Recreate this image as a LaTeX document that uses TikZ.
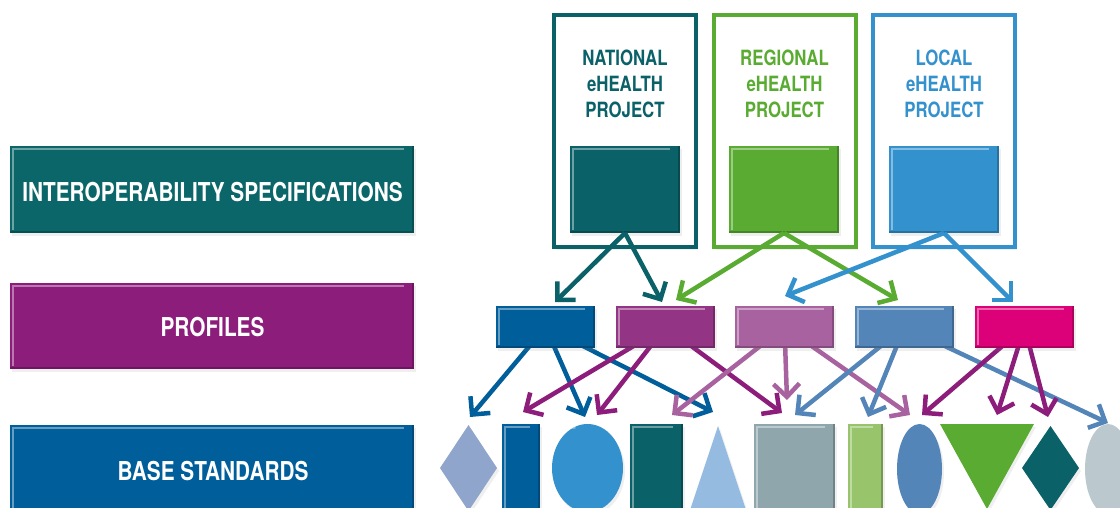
\documentclass[tikz,border=0pt]{standalone}
\usepackage{fontspec}
\newfontfamily\cond[FakeStretch=0.8]{TeX Gyre Heros}
\usetikzlibrary{arrows.meta,shadows,shapes.geometric}
\pgfdeclarelayer{bg}
\pgfsetlayers{bg,main}
\definecolor{cTeal}{HTML}{0A6168}
\definecolor{cSpec}{HTML}{0B6669}
\definecolor{cGreen}{HTML}{5AAB32}
\definecolor{cBlue}{HTML}{3391CD}
\definecolor{cDark}{HTML}{005E9B}
\definecolor{cPurple}{HTML}{8C1D7B}
\definecolor{cPtwo}{HTML}{933584}
\definecolor{cPthree}{HTML}{A8629F}
\definecolor{cPfour}{HTML}{5385B9}
\definecolor{cMag}{HTML}{DD0179}
\definecolor{cDia}{HTML}{8FA5CB}
\definecolor{cTri}{HTML}{96BBE1}
\definecolor{cGrey}{HTML}{8FA7AC}
\definecolor{cLGreen}{HTML}{98C46C}
\definecolor{cPale}{HTML}{BBC8CD}
\tikzset{
  shadowed/.style={drop shadow={shadow xshift=2pt,shadow yshift=-3pt,opacity=0.13}},
  glossy/.style={path picture={
    \draw[white,opacity=0.4,line width=1.2pt]
      ([shift={(3pt,3pt)}]path picture bounding box.south west) --
      ([shift={(3pt,-3pt)}]path picture bounding box.north west) --
      ([shift={(-10pt,-3pt)}]path picture bounding box.north east);
    \draw[black,opacity=0.22,line width=2.4pt]
      ([shift={(0pt,1.2pt)}]path picture bounding box.south west) --
      ([shift={(-1.2pt,1.2pt)}]path picture bounding box.south east) --
      ([shift={(-1.2pt,0pt)}]path picture bounding box.north east);
  }},
  eglossy/.style={path picture={
    \draw[white,opacity=0.45,line width=1.4pt]
      ([shift={(5pt,-12pt)}]path picture bounding box.north west) to[bend left=30]
      ([shift={(-12pt,-4pt)}]path picture bounding box.north);
  }},
  blk/.style={rectangle,inner sep=0pt,outer sep=0pt,shadowed,glossy},
  shp/.style={inner sep=0pt,outer sep=0pt,shadowed},
  lbl/.style={text=white,font=\cond\bfseries\fontsize{26}{30}\selectfont},
  frame/.style={rectangle,inner sep=0pt,fill=white,line width=4pt,minimum width=142,minimum height=232,shadowed},
  ptxt/.style={align=center,font=\cond\bfseries\fontsize{21}{26}\selectfont},
  arr/.style={line width=4.5pt,-{Straight Barb[length=13pt,width=26pt]}}
}
\begin{document}
\begin{tikzpicture}[x=1pt,y=-1pt]
\useasboundingbox (0,0) rectangle (1120,508);
\clip (0,0) rectangle (1120,508);

% left category bars
\node[blk,fill=cSpec,minimum width=404,minimum height=87] (spec) at (212,189.5) {};
\node[blk,fill=cPurple,minimum width=404,minimum height=86] (prof) at (212,326) {};
\node[blk,fill=cDark,minimum width=404,minimum height=87] (base) at (212,468.5) {};
\node[lbl] (spect) at (212.5,192.5) {INTEROPERABILITY SPECIFICATIONS};
\node[lbl] (proft) at (212.5,327) {PROFILES};
\node[lbl] (baset) at (213,471) {BASE STANDARDS};

% project frames
\node[frame,draw=cTeal] (natf) at (625,131) {};
\node[frame,draw=cGreen] (regf) at (784.5,131) {};
\node[frame,draw=cBlue] (locf) at (944,131) {};
\node[ptxt,text=cTeal] (natt) at (625,83.5) {NATIONAL\\eHEALTH\\PROJECT};
\node[ptxt,text=cGreen] (regt) at (784.5,83.5) {REGIONAL\\eHEALTH\\PROJECT};
\node[ptxt,text=cBlue] (loct) at (944,83.5) {LOCAL\\eHEALTH\\PROJECT};
\node[blk,fill=cTeal,minimum width=110,minimum height=87] (nat) at (625,189.5) {};
\node[blk,fill=cGreen,minimum width=110,minimum height=87] (reg) at (784,189.5) {};
\node[blk,fill=cBlue,minimum width=110,minimum height=87] (loc) at (944,189.5) {};

% profile boxes
\node[blk,fill=cDark,minimum width=99,minimum height=42] (p1) at (545.5,327) {};
\node[blk,fill=cPtwo,minimum width=99,minimum height=42] (p2) at (665.5,327) {};
\node[blk,fill=cPthree,minimum width=99,minimum height=42] (p3) at (784.5,327) {};
\node[blk,fill=cPfour,minimum width=99,minimum height=42] (p4) at (904.5,327) {};
\node[blk,fill=cMag,minimum width=99,minimum height=42] (p5) at (1024.5,327) {};

% base standard shapes
\node[shp,diamond,fill=cDia,minimum width=57,minimum height=86] (s1) at (468.5,468) {};
\node[blk,fill=cDark,minimum width=38,minimum height=100] (s2) at (521,474) {};
\node[shp,ellipse,fill=cBlue,minimum width=71,minimum height=88,eglossy] (s3) at (587.5,468) {};
\node[blk,fill=cTeal,minimum width=53,minimum height=100] (s4) at (656.5,474) {};
\path[shp,fill=cTri] (718,426) -- (748,516) -- (688,516) -- cycle;
\coordinate (s5) at (718,470);
\node[blk,fill=cGrey,minimum width=81,minimum height=100] (s6) at (794.5,474) {};
\node[blk,fill=cLGreen,minimum width=35,minimum height=100] (s7) at (865.5,474) {};
\node[shp,ellipse,fill=cPfour,minimum width=45,minimum height=90,eglossy] (s8) at (919.5,469) {};
\path[shp,fill=cGreen] (940,424) -- (1034,424) -- (987,509) -- cycle;
\coordinate (s9) at (987,450);
\node[shp,diamond,fill=cTeal,minimum width=57,minimum height=84] (s10) at (1050.5,468) {};
\node[shp,ellipse,fill=cPale,minimum width=46,minimum height=90,eglossy] (s11) at (1108,469) {};

% arrow tips
\coordinate (a1) at (555,302);
\coordinate (a2) at (662,302);
\coordinate (a3) at (676,300);
\coordinate (a4) at (898,300);
\coordinate (a5) at (785,296);
\coordinate (a6) at (1013,302);

\coordinate (b1) at (470,417);
\coordinate (b2) at (585,417);
\coordinate (b3) at (713,412);
\coordinate (b4) at (523,412);
\coordinate (b5) at (597,415);
\coordinate (b6) at (782,413);
\coordinate (b7) at (672,415);
\coordinate (b8) at (787,400);
\coordinate (b9) at (910,415);
\coordinate (b10) at (795,415);
\coordinate (b11) at (868,417);
\coordinate (b12) at (1108,423);
\coordinate (b13) at (922,415);
\coordinate (b14) at (997,415);
\coordinate (b15) at (1048,417);

% project -> profiles
\draw[arr,cTeal] (nat.south) -- (a1);
\draw[arr,cTeal] (nat.south) -- (a2);
\draw[arr,cGreen] (reg.south) -- (a3);
\draw[arr,cGreen] (reg.south) -- (a4);
\draw[arr,cBlue] (loc.south) -- (a5);
\draw[arr,cBlue] (loc.south) -- (a6);

% profiles -> base standards
\begin{pgfonlayer}{bg}
\draw[arr,cDark] (p1.center) -- (b1);
\draw[arr,cDark] (p1.center) -- (b2);
\draw[arr,cDark] (p1.center) -- (b3);
\draw[arr,cPurple] (p2.center) -- (b4);
\draw[arr,cPurple] (p2.center) -- (b5);
\draw[arr,cPurple] (p2.center) -- (b6);
\draw[arr,cPthree] (p3.center) -- (b7);
\draw[arr,cPthree] (p3.center) -- (b8);
\draw[arr,cPthree] (p3.center) -- (b9);
\draw[arr,cPfour] (p4.center) -- (b10);
\draw[arr,cPfour] (p4.center) -- (b11);
\draw[arr,cPfour] (p4.center) -- (b12);
\draw[arr,cPurple] (p5.center) -- (b13);
\draw[arr,cPurple] (p5.center) -- (b14);
\draw[arr,cPurple] (p5.center) -- (b15);
\end{pgfonlayer}
\end{tikzpicture}
\end{document}
